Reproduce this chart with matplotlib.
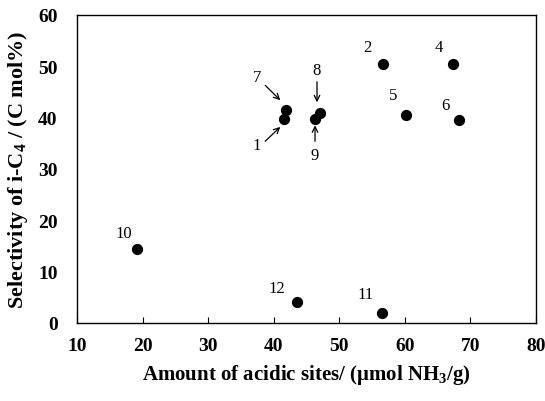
import matplotlib
matplotlib.use('Agg')
from matplotlib import pyplot as plt

# catalyst number, acidic sites (umol NH3/g), selectivity of i-C4 (C mol%)
labels = ['1', '2', '4', '5', '6', '7', '8', '9', '10', '11', '12']
acid = [41.5, 56.6, 67.4, 60.2, 68.2, 41.8, 47.0, 46.3, 19.2, 56.5, 43.5]
sel = [39.7, 50.5, 50.5, 40.6, 39.5, 41.5, 41.0, 39.7, 14.5, 2.0, 4.0]

# label text positions (data coords); arrows for crowded ones
label_pos = {'2': (54.3, 53.7), '4': (65.2, 53.7), '5': (58.2, 44.4),
             '6': (66.2, 42.5), '10': (17.1, 17.6), '12': (40.4, 6.8),
             '11': (54.0, 5.6)}
arrow_lbl = {'7': ((37.5, 48.0), (38.7, 46.3), (41.0, 43.4)),
             '1': ((37.4, 34.6), (38.7, 35.4), (41.0, 38.2)),
             '8': ((46.6, 49.2), (46.6, 47.0), (46.6, 43.0)),
             '9': ((46.3, 32.8), (46.3, 35.4), (46.3, 38.5))}

plt.rcParams['font.family'] = 'Liberation Serif'
plt.rcParams['mathtext.fontset'] = 'custom'
plt.rcParams['mathtext.rm'] = 'Liberation Serif'
plt.rcParams['mathtext.bf'] = 'Liberation Serif:bold'

fig = plt.figure(figsize=(5.45, 4.02), dpi=100)
ax = fig.add_axes([77/545, 1-324/402, (536-77)/545, (324-16)/402])

ax.scatter(acid, sel, s=50, color='black', zorder=3)

for k, (tx, ty) in label_pos.items():
    ax.text(tx, ty, k, fontsize=12, ha='center', va='center')
for k, (tpos, a0, a1) in arrow_lbl.items():
    ax.text(tpos[0], tpos[1], k, fontsize=12, ha='center', va='center')
    ax.annotate('', xy=a1, xytext=a0,
                arrowprops=dict(arrowstyle='->', color='black', lw=0.9,
                                shrinkA=0, shrinkB=0))

ax.set_xlim(10, 80)
ax.set_ylim(0, 60)
ax.set_xticks(range(10, 81, 10))
ax.set_yticks(range(0, 61, 10))
ax.tick_params(axis='x', direction='in', length=4, width=0.8, pad=10, labelsize=14)
ax.tick_params(axis='y', length=0, pad=14, labelsize=14)
for t in ax.get_xticklabels() + ax.get_yticklabels():
    t.set_fontweight('bold')
for s in ax.spines.values():
    s.set_linewidth(1.0)

ax.set_xlabel('Amount of acidic sites/ (\u03bcmol NH$_\\mathbf{3}$/g)',
              fontsize=15, fontweight='bold', labelpad=6)
ax.set_ylabel('Selectivity of i-C$_\\mathbf{4}$ / (C mol%)',
              fontsize=16, fontweight='bold', labelpad=6)

fig.savefig('out.png', dpi=100)
